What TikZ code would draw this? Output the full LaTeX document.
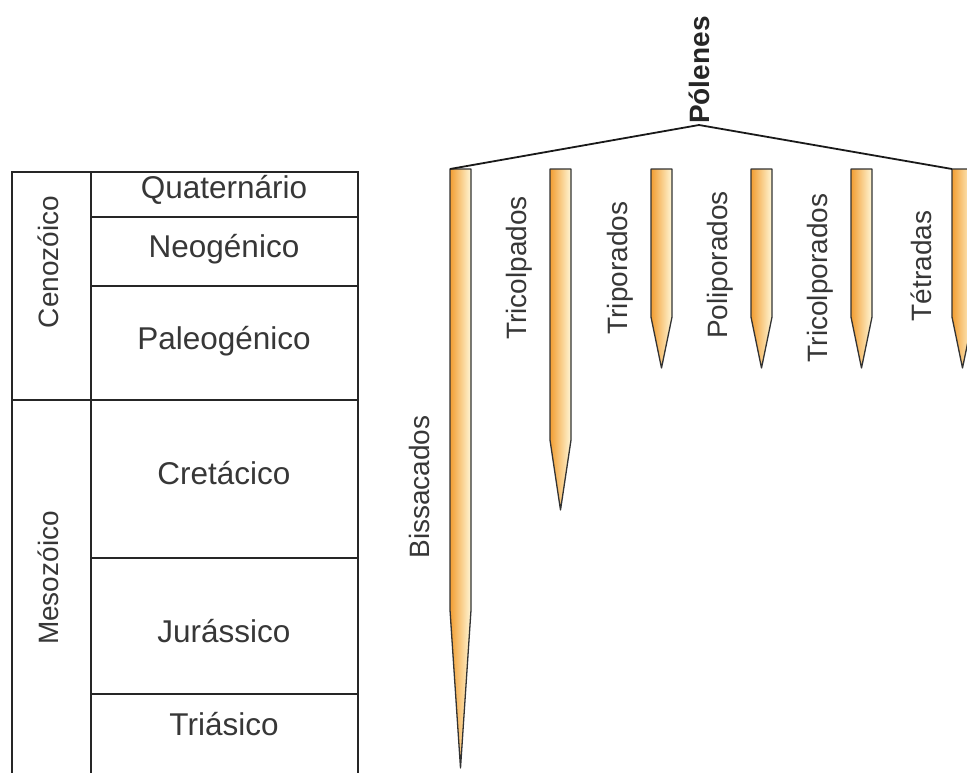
\documentclass[tikz,border=0pt]{standalone}
\usepackage{fontspec}
\setmainfont{Liberation Sans}
\definecolor{txt}{RGB}{55,55,55}
\definecolor{rodA}{RGB}{242,158,50}
\definecolor{rodB}{RGB}{255,212,135}
\definecolor{rodC}{RGB}{255,247,215}
\tikzset{
  tline/.style={line width=2.6pt, black!85, line cap=rect},
  ttxt/.style={text=txt, font=\fontsize{31.5}{36}\selectfont, inner sep=0pt},
  vtxt/.style={text=txt, font=\fontsize{28}{34}\selectfont, rotate=90, inner sep=0pt},
  rodstyle/.style={draw=black!80, line width=1.3pt, line join=round, left color=rodA, middle color=rodB, right color=rodC},
  conn/.style={line width=1.8pt, black!90}
}
\newcommand\pollenrod[5]{%
  \path[rodstyle] (#2,169) -- (#3,169) -- (#3,#4) -- ({(#2+#3)/2},#5) -- (#2,#4) -- cycle;
  \coordinate (#1) at (#2,169);}
\begin{document}
\begin{tikzpicture}[x=1pt,y=-1pt]
\useasboundingbox (0,0) rectangle (967,772);
\clip (0,0) rectangle (967,772);
% table
\draw[tline] (12,772) -- (12,172) -- (358,172) -- (358,772);
\draw[tline] (91,172) -- (91,772);
\draw[tline] (91,217) -- (358,217);
\draw[tline] (91,286) -- (358,286);
\draw[tline] (12,400) -- (358,400);
\draw[tline] (91,558) -- (358,558);
\draw[tline] (91,694) -- (358,694);
\node[vtxt] (ceno) at (48,262) {Cenozóico};
\node[vtxt] (meso) at (48,578) {Mesozóico};
\node[ttxt] (quat) at (224,190) {Quaternário};
\node[ttxt] (neog) at (224,249) {Neogénico};
\node[ttxt] (paleo) at (224,341) {Paleogénico};
\node[ttxt] (cret) at (224,473) {Cretácico};
\node[ttxt] (jur) at (224,631) {Jurássico};
\node[ttxt] (tri) at (224,724) {Triásico};
% rods
\pollenrod{bis}{450}{471}{610}{768}
\pollenrod{tcp}{550}{571}{440}{510}
\pollenrod{trp}{651}{672}{317}{368}
\pollenrod{plp}{751}{772}{317}{368}
\pollenrod{tcl}{851}{872}{317}{368}
\pollenrod{tet}{952}{973}{317}{368}
% labels
\node[vtxt] (lbis) at (419,487) {Bissacados};
\node[vtxt] (ltcp) at (519,268) {Tricolpados};
\node[vtxt] (ltrp) at (620,268) {Triporados};
\node[vtxt] (lplp) at (720,265) {Poliporados};
\node[vtxt] (ltcl) at (820,278) {Tricolporados};
\node[vtxt] (ltet) at (921,266) {Tétradas};
% root
\node[vtxt, font=\fontsize{28}{34}\selectfont\bfseries, text=black!85, anchor=west, inner sep=1pt] (pol) at (699,125) {Pólenes};
\draw[conn] (pol.west) -- (bis);
\draw[conn] (pol.west) -- (tet);
\end{tikzpicture}
\end{document}
